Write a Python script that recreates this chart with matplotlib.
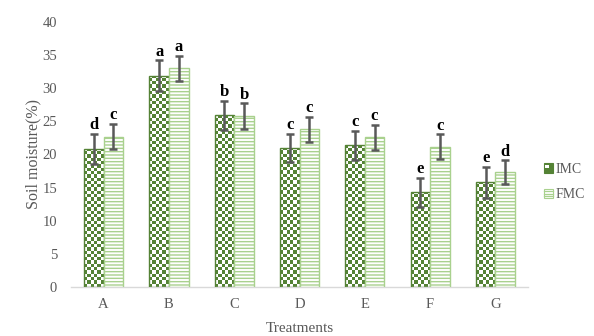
import numpy as np
import matplotlib
matplotlib.use("Agg")
import matplotlib.pyplot as plt
from matplotlib.patches import Rectangle, Patch

categories = ['A', 'B', 'C', 'D', 'E', 'F', 'G']
imc = [20.8, 31.9, 25.9, 21.0, 21.4, 14.3, 15.8]
fmc = [22.7, 33.0, 25.8, 23.8, 22.6, 21.2, 17.3]
imc_err = [2.3, 2.3, 2.2, 2.1, 2.2, 2.2, 2.3]
fmc_err = [1.9, 1.9, 1.9, 1.85, 1.9, 1.85, 1.8]
imc_letters = ['d', 'a', 'b', 'c', 'c', 'e', 'e']
fmc_letters = ['c', 'a', 'b', 'c', 'c', 'c', 'd']
yticks = [0, 5, 10, 15, 20, 25, 30, 35, 40]

DARK = '#548235'
LIGHT = '#a9d18e'
ERR = '#595959'
TXT = '#595959'
SERIF = ['Liberation Serif', 'DejaVu Serif']

plt.rcParams['font.family'] = SERIF
plt.rcParams['hatch.linewidth'] = 1.0

fig = plt.figure(figsize=(5.94, 3.36), dpi=100)
ax = fig.add_axes([0.1195, 0.146, 0.7695, 0.7885])

x = np.arange(len(categories))
w = 0.3

bars_imc = ax.bar(x - w / 2, imc, w, facecolor='none', edgecolor=DARK, linewidth=1.0, zorder=3)
bars_fmc = ax.bar(x + w / 2, fmc, w, facecolor='white', edgecolor=LIGHT, hatch='-----', linewidth=1.0, zorder=3)

# checkerboard fill for IMC bars
cell = 0.5
for b in bars_imc:
    x0 = b.get_x()
    h = b.get_height()
    nrows = int(np.ceil(h / cell))
    ncols = 6
    grid = (np.add.outer(np.arange(nrows), np.arange(ncols)) % 2).astype(float)
    rgb = np.ones((nrows, ncols, 3))
    dark_rgb = np.array(matplotlib.colors.to_rgb(DARK))
    rgb[grid == 0] = dark_rgb
    im = ax.imshow(rgb, extent=(x0, x0 + b.get_width(), 0, nrows * cell), origin='lower',
                   aspect='auto', interpolation='nearest', zorder=2)
    im.set_clip_path(b)

ax.errorbar(x - w / 2, imc, yerr=imc_err, fmt='none', ecolor=ERR, elinewidth=1.8,
            capsize=2.6, capthick=1.8, zorder=4)
ax.errorbar(x + w / 2, fmc, yerr=fmc_err, fmt='none', ecolor=ERR, elinewidth=1.8,
            capsize=2.6, capthick=1.8, zorder=4)

for xi, v, e, l in zip(x - w / 2, imc, imc_err, imc_letters):
    ax.annotate(l, (xi, v + e), xytext=(0, 0.5), textcoords='offset points', ha='center',
                va='bottom', fontsize=12, fontweight='bold', color='black', zorder=5)
for xi, v, e, l in zip(x + w / 2, fmc, fmc_err, fmc_letters):
    ax.annotate(l, (xi, v + e), xytext=(0, 0.5), textcoords='offset points', ha='center',
                va='bottom', fontsize=12, fontweight='bold', color='black', zorder=5)

ax.set_xlim(-0.5, len(categories) - 0.5)
ax.set_ylim(0, 40)
ax.set_yticks(yticks)
ax.set_xticks(x)
ax.set_xticklabels(categories)
ax.tick_params(axis='both', length=0, labelsize=10.5, colors=TXT)
ax.tick_params(axis='x', pad=8)
ax.tick_params(axis='y', pad=10)
for s in ['top', 'right', 'left']:
    ax.spines[s].set_visible(False)
ax.spines['bottom'].set_color('#d9d9d9')
ax.spines['bottom'].set_linewidth(1.0)

ax.set_ylabel('Soil moisture(%)', fontsize=11.5, color=TXT, labelpad=1)
ax.set_xlabel('Treatments', fontsize=11, color=TXT, labelpad=8)


class CheckerHandler:
    def legend_artist(self, legend, orig_handle, fontsize, handlebox):
        x0, y0 = handlebox.xdescent, handlebox.ydescent
        s = handlebox.height
        t = handlebox.get_transform()
        handlebox.add_artist(Rectangle((x0, y0), s, s, facecolor=DARK, edgecolor=DARK, lw=0.8, transform=t))
        q = s / 3
        handlebox.add_artist(Rectangle((x0 + 0.6 * q, y0 + 1.4 * q), q, q, facecolor='white',
                                       edgecolor='none', transform=t))
        return handlebox


class HatchHandler:
    def legend_artist(self, legend, orig_handle, fontsize, handlebox):
        x0, y0 = handlebox.xdescent, handlebox.ydescent
        s = handlebox.height
        t = handlebox.get_transform()
        handlebox.add_artist(Rectangle((x0, y0), s, s, facecolor='white', edgecolor=LIGHT, lw=0.8, transform=t))
        for k in range(1, 4):
            yy = y0 + k * s / 4
            handlebox.add_artist(matplotlib.lines.Line2D([x0, x0 + s], [yy, yy], color=LIGHT, lw=0.9, transform=t))
        return handlebox


h1 = Patch(label='IMC')
h2 = Patch(label='FMC')
leg = fig.legend(handles=[h1, h2], labels=['IMC', 'FMC'], loc='center left',
                 bbox_to_anchor=(0.915, 0.458), frameon=False, fontsize=10,
                 handlelength=0.7, handleheight=0.7, handletextpad=0.2, labelspacing=0.9,
                 borderaxespad=0, borderpad=0,
                 handler_map={h1: CheckerHandler(), h2: HatchHandler()})
for txt in leg.get_texts():
    txt.set_color(TXT)

fig.savefig('out.png', dpi=100)
